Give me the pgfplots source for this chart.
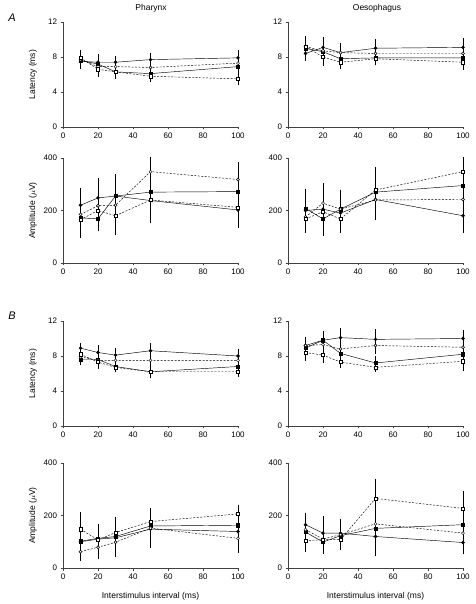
\documentclass[border=0pt]{standalone}
\usepackage{pgfplots}
\pgfplotsset{compat=1.18}
\usepackage{fontspec}
\setmainfont{Liberation Sans}
\begin{document}
\begin{tikzpicture}
\useasboundingbox (0pt,0pt) rectangle (475pt,604pt);
\pgfplotsset{
 panel/.style={scale only axis, width=175pt, height=105pt, anchor=south west,
   xmin=0, xmax=100, axis x line*=bottom, axis y line*=left,
   xtick={0,20,40,60,80,100}, tick align=outside, major tick length=2.5pt,
   axis line style={black!75, line width=0.6pt}, tick style={black!75, line width=0.5pt},
   ticklabel style={font=\fontsize{8}{9}\selectfont},
   /pgf/number format/assume math mode=true, clip=false,
   every axis y label/.style={at={(rel axis cs:0,0.5)}, rotate=90, anchor=center, yshift=30pt, font=\fontsize{8.5}{10}\selectfont},
   every axis x label/.style={at={(rel axis cs:0.5,0)}, anchor=center, yshift=-28pt, font=\fontsize{8.5}{10}\selectfont}},
 lat/.style={ymin=0, ymax=12, ytick={0,4,8,12}},
 amp/.style={ymin=0, ymax=400, ytick={0,200,400}},
 ser/.style={black, line width=0.45pt, error bars/y dir=both, error bars/y explicit,
   error bars/error bar style={line width=0.4pt, solid},
   error bars/error mark options={mark size=1.3pt, line width=0.4pt}},
 fc/.style={ser, solid, mark=*, mark size=1.5pt, mark options={solid, fill=black}},
 fs/.style={ser, solid, mark=square*, mark size=1.6pt, mark options={solid, fill=black}},
 oc/.style={ser, dash pattern=on 2pt off 1.5pt, mark=*, mark size=1.5pt, mark options={solid, fill=white}},
 os/.style={ser, dash pattern=on 2pt off 1.5pt, mark=square*, mark size=1.6pt, mark options={solid, fill=white}},
}
% titles and panel letters
\node[font=\fontsize{8.5}{10}\selectfont] at (151pt,596pt) {Pharynx};
\node[font=\fontsize{8.5}{10}\selectfont] at (377pt,596pt) {Oesophagus};
\node[font=\fontsize{11}{12}\itshape] at (12pt,586pt) {A};
\node[font=\fontsize{11}{12}\itshape] at (12pt,288pt) {B};

% ---------- A Pharynx latency
\begin{axis}[panel, lat, at={(63pt,477pt)}, ylabel={Latency (ms)}]
\addplot[fc] coordinates {(10,7.5)+-(0,0.7) (20,7.4)+-(0,0.8) (30,7.4)+-(0,0.6) (50,7.7)+-(0,0.6) (100,7.9)+-(0,0.7)};
\addplot[fs] coordinates {(10,7.6)+-(0,0.8) (20,7.2)+-(0,0.9) (30,6.3)+-(0,0.7) (50,6.1)+-(0,0.7) (100,6.9)+-(0,0.8)};
\addplot[oc] coordinates {(10,7.7)+-(0,0.7) (20,6.9)+-(0,0.8) (30,6.9)+-(0,0.7) (50,6.8)+-(0,0.7) (100,7.3)+-(0,0.8)};
\addplot[os] coordinates {(10,7.9)+-(0,0.8) (20,6.6)+-(0,0.7) (30,6.3)+-(0,0.6) (50,5.8)+-(0,0.5) (100,5.5)+-(0,0.5)};
\end{axis}
% ---------- A Pharynx amplitude
\begin{axis}[panel, amp, at={(63pt,341pt)}, ylabel={Amplitude ($\mu$V)}]
\addplot[fc] coordinates {(10,220)+-(0,60) (20,248)+-(0,70) (30,255)+-(0,70) (50,238)+-(0,80) (100,202)+-(0,65)};
\addplot[fs] coordinates {(10,172)+-(0,70) (20,168)+-(0,40) (30,255)+-(0,80) (50,270)+-(0,80) (100,272)+-(0,70)};
\addplot[oc] coordinates {(10,185)+-(0,80) (20,218)+-(0,80) (30,220)+-(0,80) (50,348)+-(0,50) (100,318)+-(0,60)};
\addplot[os] coordinates {(10,165)+-(0,60) (20,200)+-(0,60) (30,180)+-(0,70) (50,240)+-(0,80) (100,212)+-(0,70)};
\end{axis}
% ---------- A Oesophagus latency
\begin{axis}[panel, lat, at={(288pt,477pt)}]
\addplot[fc] coordinates {(10,8.4)+-(0,0.7) (20,9.1)+-(0,1.0) (30,8.5)+-(0,1.0) (50,9.0)+-(0,0.9) (100,9.1)+-(0,0.9)};
\addplot[fs] coordinates {(10,9.0)+-(0,0.8) (20,8.6)+-(0,0.9) (30,7.8)+-(0,0.7) (50,7.9)+-(0,0.7) (100,7.9)+-(0,0.8)};
\addplot[oc] coordinates {(10,9.2)+-(0,0.9) (20,8.7)+-(0,0.8) (30,8.5)+-(0,0.8) (50,8.4)+-(0,0.8) (100,8.4)+-(0,0.8)};
\addplot[os] coordinates {(10,9.2)+-(0,1.0) (20,8.0)+-(0,0.9) (30,7.4)+-(0,0.6) (50,7.8)+-(0,0.6) (100,7.4)+-(0,0.7)};
\end{axis}
% ---------- A Oesophagus amplitude
\begin{axis}[panel, amp, at={(288pt,341pt)}]
\addplot[fc] coordinates {(10,200)+-(0,70) (20,205)+-(0,80) (30,190)+-(0,70) (50,242)+-(0,70) (100,180)+-(0,60)};
\addplot[fs] coordinates {(10,208)+-(0,70) (20,168)+-(0,60) (30,205)+-(0,70) (50,270)+-(0,90) (100,295)+-(0,70)};
\addplot[oc] coordinates {(10,175)+-(0,50) (20,228)+-(0,70) (30,205)+-(0,70) (50,240)+-(0,70) (100,242)+-(0,70)};
\addplot[os] coordinates {(10,168)+-(0,50) (20,195)+-(0,80) (30,168)+-(0,40) (50,278)+-(0,80) (100,348)+-(0,50)};
\end{axis}
% ---------- B Pharynx latency
\begin{axis}[panel, lat, at={(63pt,178pt)}, ylabel={Latency (ms)}]
\addplot[fc] coordinates {(10,8.9)+-(0,0.4) (20,8.4)+-(0,0.7) (30,8.1)+-(0,0.7) (50,8.6)+-(0,0.7) (100,8.0)+-(0,0.6)};
\addplot[fs] coordinates {(10,7.6)+-(0,0.5) (20,7.6)+-(0,0.6) (30,6.8)+-(0,0.4) (50,6.2)+-(0,0.6) (100,6.8)+-(0,0.5)};
\addplot[oc] coordinates {(10,7.9)+-(0,0.5) (20,7.5)+-(0,0.5) (30,7.5)+-(0,0.5) (50,7.5)+-(0,0.5) (100,7.5)+-(0,0.5)};
\addplot[os] coordinates {(10,8.2)+-(0,0.5) (20,7.3)+-(0,0.6) (30,6.7)+-(0,0.4) (50,6.2)+-(0,0.5) (100,6.2)+-(0,0.5)};
\end{axis}
% ---------- B Pharynx amplitude
\begin{axis}[panel, amp, at={(63pt,36pt)}, ylabel={Amplitude ($\mu$V)}, xlabel={Interstimulus interval (ms)}]
\addplot[fc] coordinates {(10,100)+-(0,40) (20,110)+-(0,45) (30,115)+-(0,50) (50,148)+-(0,50) (100,139)+-(0,50)};
\addplot[fs] coordinates {(10,102)+-(0,50) (20,113)+-(0,50) (30,120)+-(0,60) (50,160)+-(0,50) (100,163)+-(0,50)};
\addplot[oc] coordinates {(10,62)+-(0,30) (20,79)+-(0,40) (30,98)+-(0,50) (50,152)+-(0,70) (100,113)+-(0,50)};
\addplot[os] coordinates {(10,148)+-(0,60) (20,107)+-(0,50) (30,135)+-(0,55) (50,177)+-(0,40) (100,206)+-(0,30)};
\end{axis}
% ---------- B Oesophagus latency
\begin{axis}[panel, lat, at={(288pt,178pt)}]
\addplot[fc] coordinates {(10,9.2)+-(0,0.8) (20,9.8)+-(0,0.9) (30,10.1)+-(0,1.0) (50,9.9)+-(0,1.0) (100,10.0)+-(0,0.8)};
\addplot[fs] coordinates {(10,8.9)+-(0,0.6) (20,9.8)+-(0,0.8) (30,8.3)+-(0,0.8) (50,7.2)+-(0,0.6) (100,8.2)+-(0,0.7)};
\addplot[oc] coordinates {(10,9.2)+-(0,0.7) (20,9.3)+-(0,0.8) (30,8.8)+-(0,0.8) (50,9.2)+-(0,0.8) (100,9.0)+-(0,0.8)};
\addplot[os] coordinates {(10,8.4)+-(0,0.8) (20,8.1)+-(0,0.7) (30,7.3)+-(0,0.5) (50,6.7)+-(0,0.4) (100,7.4)+-(0,1.0)};
\end{axis}
% ---------- B Oesophagus amplitude
\begin{axis}[panel, amp, at={(288pt,36pt)}, xlabel={Interstimulus interval (ms)}]
\addplot[fc] coordinates {(10,165)+-(0,40) (20,133)+-(0,60) (30,133)+-(0,50) (50,120)+-(0,70) (100,97)+-(0,40)};
\addplot[fs] coordinates {(10,137)+-(0,50) (20,99)+-(0,30) (30,123)+-(0,40) (50,151)+-(0,70) (100,165)+-(0,50)};
\addplot[oc] coordinates {(10,146)+-(0,50) (20,110)+-(0,40) (30,127)+-(0,55) (50,168)+-(0,80) (100,133)+-(0,40)};
\addplot[os] coordinates {(10,104)+-(0,40) (20,108)+-(0,50) (30,108)+-(0,30) (50,265)+-(0,70) (100,227)+-(0,60)};
\end{axis}
\end{tikzpicture}
\end{document}
